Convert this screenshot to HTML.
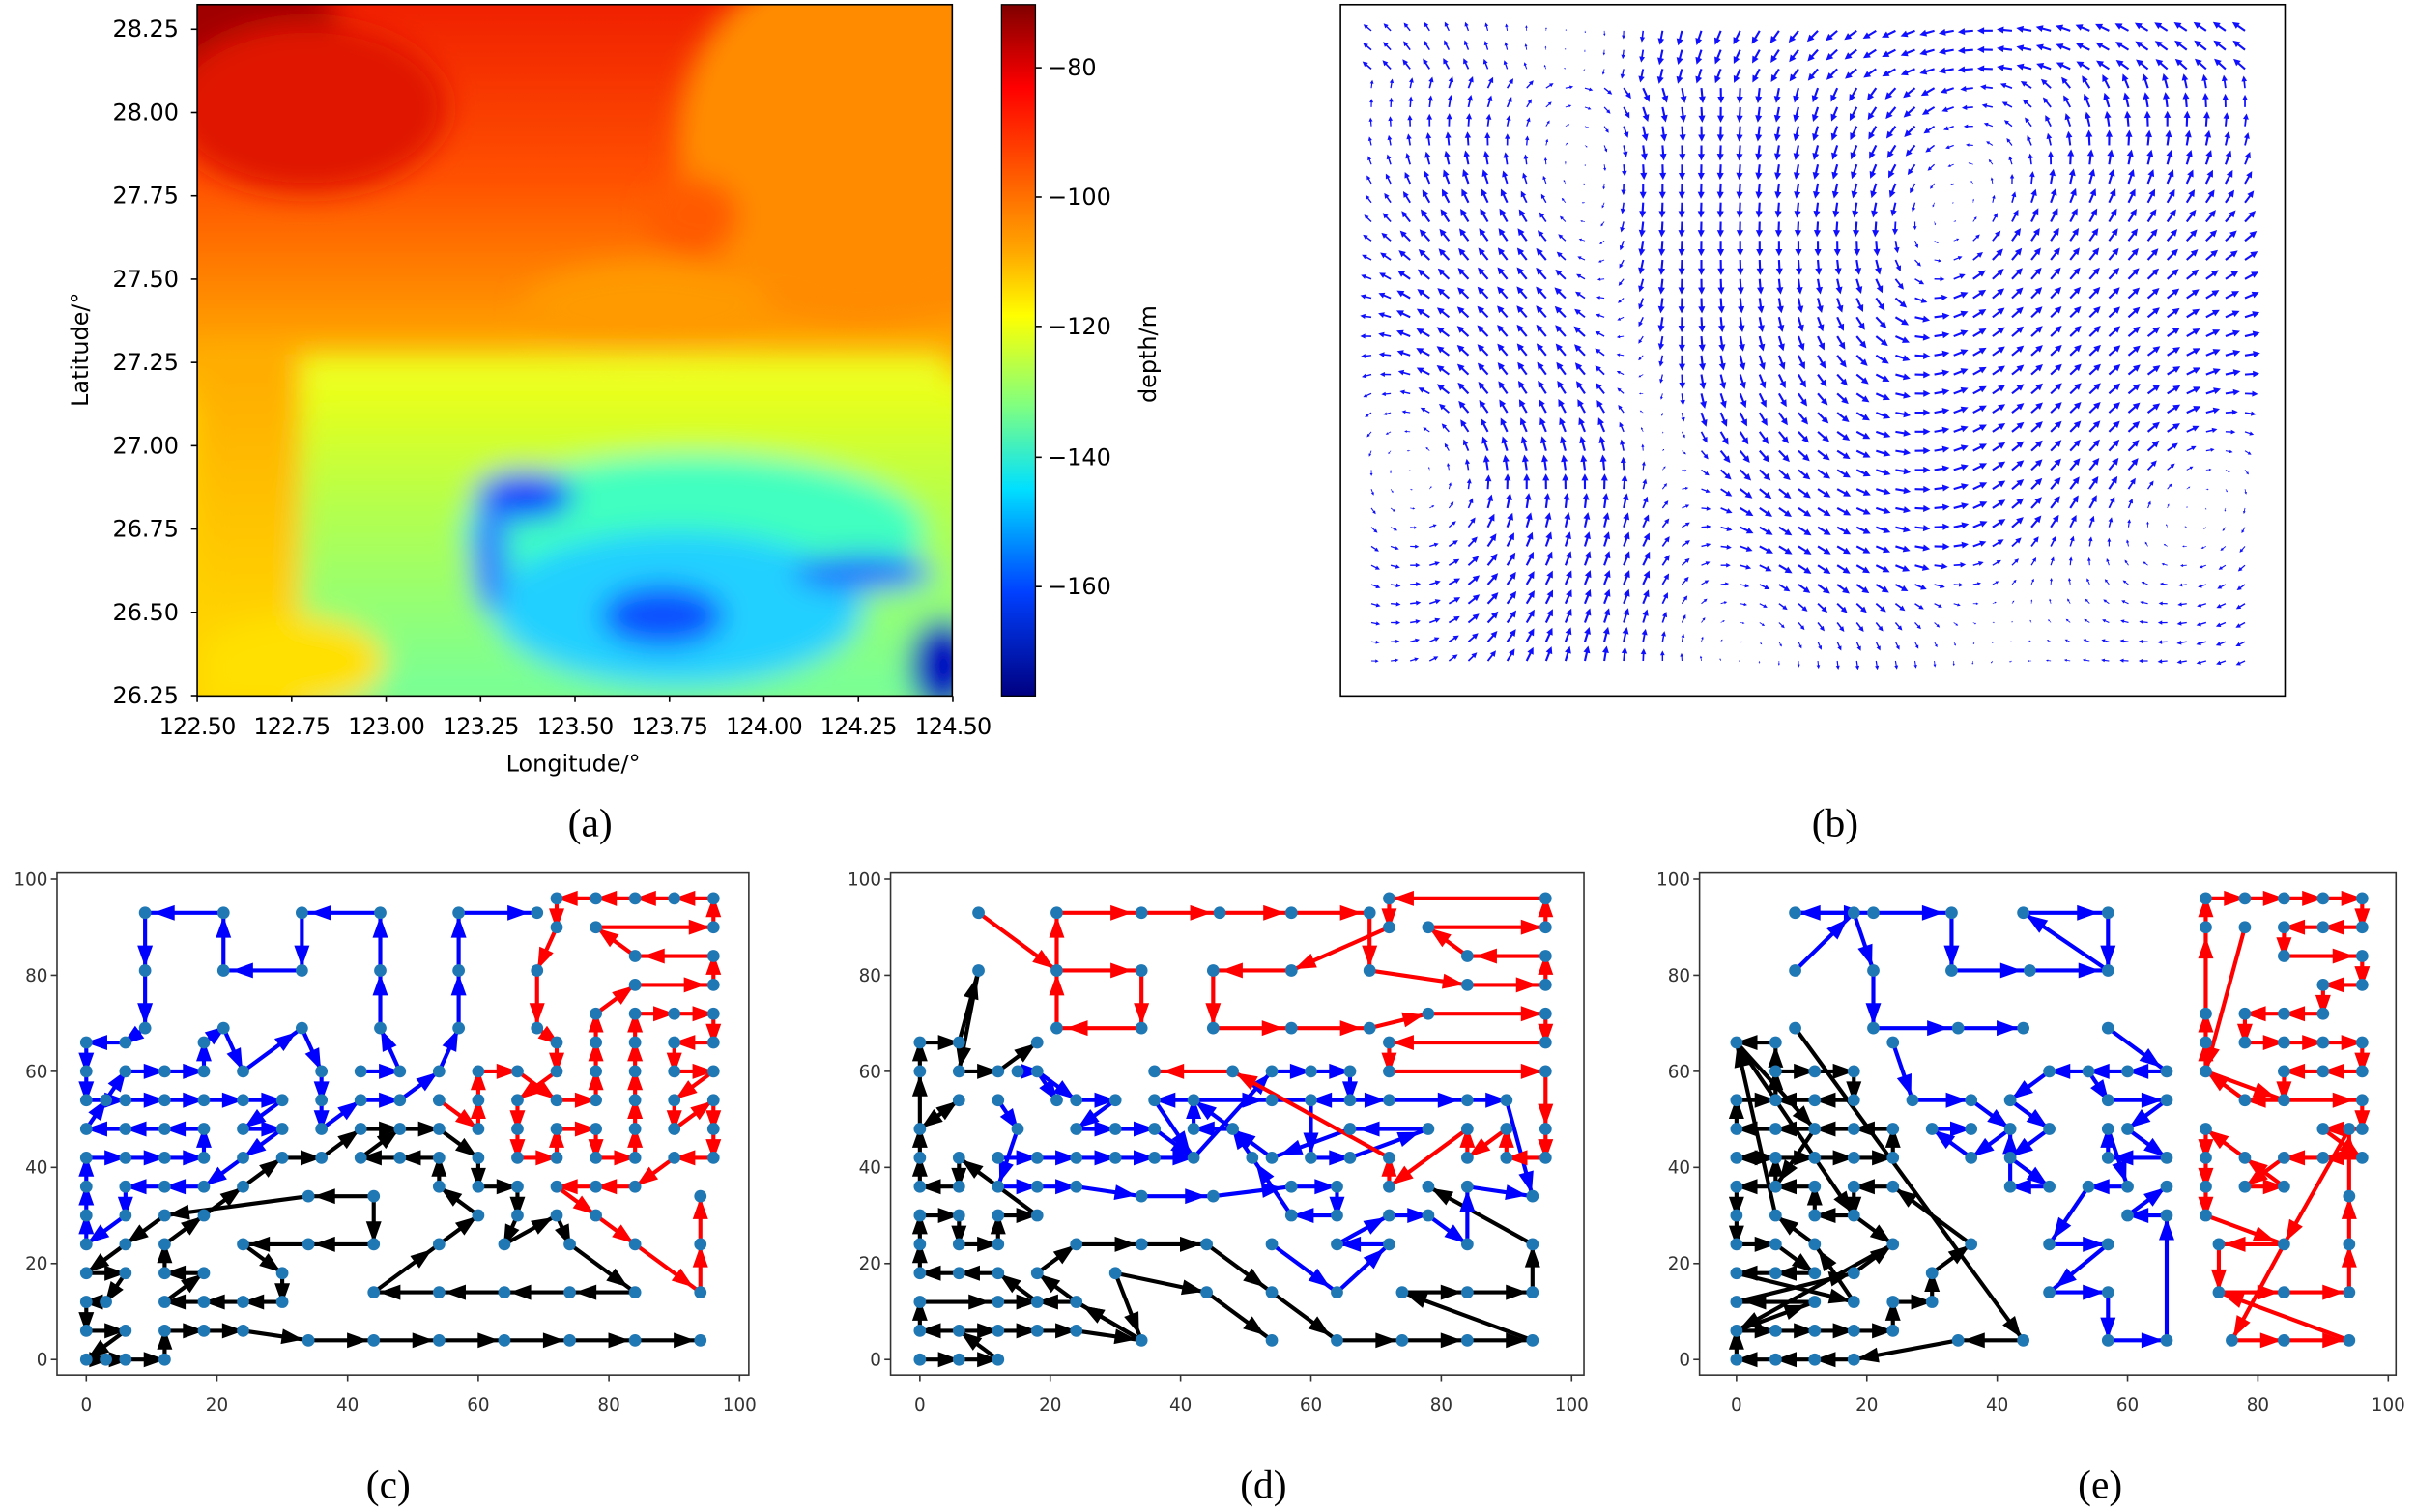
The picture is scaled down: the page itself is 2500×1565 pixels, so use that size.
<!DOCTYPE html>
<html><head><meta charset="utf-8"><style>
html,body{margin:0;padding:0;background:#fff}
svg{display:block}
text{font-family:"DejaVu Sans","Liberation Sans",sans-serif}
.cap{font-family:"Liberation Serif",serif;font-size:26px}
</style></head><body>
<svg id="s" width="2500" height="1565" viewBox="0 0 1568 982" preserveAspectRatio="none" xmlns="http://www.w3.org/2000/svg">
<defs>
<filter id="bl" x="-20%" y="-20%" width="140%" height="140%"><feGaussianBlur stdDeviation="9"/></filter>
<clipPath id="cpa"><rect x="128" y="3" width="490" height="449"/></clipPath>
<linearGradient id="top" x1="0" y1="0" x2="0" y2="1">
<stop offset="0" stop-color="#f02000"/><stop offset="0.25" stop-color="#ff5000"/><stop offset="0.42" stop-color="#ff8a00"/><stop offset="0.52" stop-color="#ffb000"/><stop offset="0.6" stop-color="#ffd200"/><stop offset="1" stop-color="#ffd200"/></linearGradient>
<linearGradient id="jet" x1="0" y1="0" x2="0" y2="1">
<stop offset="0" stop-color="#800000"/><stop offset="0.12" stop-color="#ff0000"/><stop offset="0.36" stop-color="#ffaa00"/><stop offset="0.45" stop-color="#ffff00"/><stop offset="0.58" stop-color="#80ff80"/><stop offset="0.7" stop-color="#00e0ff"/><stop offset="0.85" stop-color="#0040ff"/><stop offset="1" stop-color="#000080"/></linearGradient>
<linearGradient id="lft" x1="0" y1="0" x2="0" y2="1"><stop offset="0" stop-color="#ffaa00"/><stop offset="1" stop-color="#ffe000"/></linearGradient>
<linearGradient id="grn" x1="0" y1="0" x2="0" y2="1"><stop offset="0" stop-color="#f0ff10"/><stop offset="0.35" stop-color="#b8ff48"/><stop offset="1" stop-color="#70ffa0"/></linearGradient>
</defs>
<g clip-path="url(#cpa)">
<rect x="128" y="3" width="490" height="449" fill="url(#top)"/>
<g filter="url(#bl)">
<ellipse cx="560" cy="90" rx="120" ry="120" fill="#ff8c00"/>
<ellipse cx="420" cy="200" rx="80" ry="30" fill="#ff9a00"/>
<ellipse cx="150" cy="20" rx="70" ry="45" fill="#a00000"/>
<ellipse cx="200" cy="70" rx="90" ry="55" fill="#e01400"/>
<ellipse cx="450" cy="140" rx="30" ry="25" fill="#ff5a00"/>
<rect x="128" y="230" width="70" height="230" fill="url(#lft)"/>
<rect x="195" y="245" width="440" height="220" fill="url(#grn)"/>
<rect x="195" y="230" width="420" height="25" fill="#ecff20"/>
<ellipse cx="450" cy="345" rx="150" ry="50" fill="#40ffc0"/>
<ellipse cx="440" cy="395" rx="120" ry="50" fill="#20d0ff"/>
<ellipse cx="340" cy="322" rx="32" ry="16" fill="#1040ff"/>
<ellipse cx="318" cy="360" rx="12" ry="38" fill="#3080ff"/>
<ellipse cx="430" cy="400" rx="40" ry="20" fill="#1050ff"/>
<ellipse cx="560" cy="372" rx="45" ry="12" fill="#2070ff"/>
<ellipse cx="612" cy="432" rx="22" ry="30" fill="#0000c0"/>
<ellipse cx="190" cy="430" rx="60" ry="30" fill="#ffe000"/>
</g>
</g>
<rect x="128" y="3" width="490" height="449" fill="none" stroke="#000" stroke-width="1"/>
<rect x="650" y="3" width="22" height="449" fill="url(#jet)" stroke="#000" stroke-width="0.8"/>
<g font-size="15" fill="#000">
<g stroke="#000" stroke-width="1">
<line x1="672" y1="44" x2="676" y2="44"/><line x1="672" y1="128" x2="676" y2="128"/><line x1="672" y1="212" x2="676" y2="212"/><line x1="672" y1="297" x2="676" y2="297"/><line x1="672" y1="381" x2="676" y2="381"/>
</g>
<text x="680" y="49">−80</text><text x="680" y="133">−100</text><text x="680" y="217">−120</text><text x="680" y="302">−140</text><text x="680" y="386">−160</text>
<text transform="translate(750,230) rotate(-90)" text-anchor="middle">depth/m</text>
<text transform="translate(57,227) rotate(-90)" text-anchor="middle">Latitude/°</text>
<text x="372" y="501" text-anchor="middle">Longitude/°</text>
<g id="latt" text-anchor="end"></g>
<g id="lont" text-anchor="middle"></g>
</g>
<text class="cap" x="383" y="543" text-anchor="middle">(a)</text>
<rect x="870" y="3" width="613" height="449" fill="none" stroke="#000" stroke-width="1"/>
<g id="quiv" fill="#1010ff"></g>
<text class="cap" x="1191" y="543" text-anchor="middle">(b)</text>
<g id="paths"></g>
<text class="cap" x="252" y="973" text-anchor="middle">(c)</text>
<text class="cap" x="820" y="973" text-anchor="middle">(d)</text>
<text class="cap" x="1363" y="973" text-anchor="middle">(e)</text>
</svg>
<script>
var NS="http://www.w3.org/2000/svg";
function el(p,t,a,txt){var e=document.createElementNS(NS,t);for(var k in a)e.setAttribute(k,a[k]);if(txt!=null)e.textContent=txt;p.appendChild(e);return e;}
var latt=document.getElementById('latt'),lont=document.getElementById('lont');
var lats=["28.25","28.00","27.75","27.50","27.25","27.00","26.75","26.50","26.25"];
for(var i=0;i<9;i++){var y=19+i*54.1;el(latt,'line',{x1:124,y1:y,x2:128,y2:y,stroke:'#000'});el(latt,'text',{x:116,y:y+5},lats[i]);}
var lons=["122.50","122.75","123.00","123.25","123.50","123.75","124.00","124.25","124.50"];
for(var i=0;i<9;i++){var x=128+i*61.3;el(lont,'line',{x1:x,y1:452,x2:x,y2:456,stroke:'#000'});el(lont,'text',{x:x,y:477,'letter-spacing':'-0.5'},lons[i]);}
var q=document.getElementById('quiv');
var vs=[[1300,95,-1,120],[1130,395,1,110],[1040,90,1,90],[1220,230,-1,110],[1400,300,1,100],[960,300,-1,90],[1060,230,1,80]];
for(var r=0;r<34;r++)for(var c=0;c<46;c++){
 var x=890+c*12.6,y=20+r*12.4,u=0,v=0;
 for(var k=0;k<vs.length;k++){var d=vs[k],dx=x-d[0],dy=y-d[1],d2=dx*dx+dy*dy,f=d[2]*Math.exp(-d2/(2*d[3]*d[3]));u+=-dy*f/d[3];v+=dx*f/d[3];}
 if(r<3)u-=0.5;
 var m=Math.sqrt(u*u+v*v);var L=Math.min(10,m*14);if(L<1)L=1;
 var a=Math.atan2(v,u)*180/Math.PI;
 var w=Math.max(0.6,L/4.5);
 el(q,'path',{d:'M0,'+(-w*0.3)+'L'+(L*0.55)+','+(-w*0.3)+'L'+(L*0.55)+','+(-w)+'L'+L+',0L'+(L*0.55)+','+w+'L'+(L*0.55)+','+(w*0.3)+'L0,'+(w*0.3)+'Z',transform:'translate('+x.toFixed(1)+','+y.toFixed(1)+') rotate('+a.toFixed(1)+')'});
}
var P=document.getElementById('paths');
var panels=[
{ax:37,aw:449,x0:56,sx:4.24,
 blk:[[[0,0],[3,0],[6,0],[12,0],[12,6],[18,6],[24,6],[34,4],[44,4],[54,4],[64,4],[74,4],[84,4],[94,4]],
 [[84,14],[74,14],[64,14],[54,14],[44,14],[54,24],[60,30],[54,36],[54,42],[48,42],[42,42],[48,48],[54,48],[60,42],[60,36],[66,36],[66,30],[64,24],[72,30],[74,24],[84,14]],
 [[44,24],[34,24],[24,24],[30,18],[30,12],[24,12],[18,12],[12,12],[18,18],[12,18],[12,24],[18,30],[24,36],[30,42],[36,42],[42,48],[48,48]],
 [[44,34],[44,24]],[[44,34],[34,34],[12,30],[6,24],[0,18],[6,18],[3,12],[0,12],[0,6],[6,6],[0,0]]],
 blu:[[[57,93],[69,93]],[[57,69],[57,81],[57,93]],[[42,54],[48,54],[54,60],[57,69]],[[36,48],[42,54]],[[33,69],[36,60],[36,54],[36,48]],
 [[24,60],[33,69]],[[21,69],[24,60]],[[18,60],[18,66],[21,69]],[[6,60],[12,60],[18,60]],[[0,48],[3,54],[6,60]],
 [[45,93],[33,93],[33,81],[21,81],[21,93],[9,93],[9,81],[9,69],[6,66],[0,66],[0,60],[0,54],[6,54],[12,54],[18,54],[24,54],[30,54],[24,48],[30,48],[24,42],[18,36],[12,36],[6,36],[6,30],[0,24],[0,30],[0,36],[0,42],[6,42],[12,42],[18,42],[18,48],[12,48],[6,48],[0,48]],
 [[42,60],[48,60],[45,69],[45,81],[45,93]]],
 red:[[[78,90],[96,90],[96,96],[90,96],[84,96],[78,96],[72,96],[72,90],[69,81],[69,69],[72,66],[72,60],[66,54],[66,48],[66,42],[72,42],[72,48],[78,48],[78,42],[84,42],[84,48],[84,54],[84,60],[84,66],[84,72],[90,72],[96,72],[96,66],[90,66],[90,60],[96,60],[90,54],[90,48],[96,54],[96,48],[96,42],[90,42],[84,36],[78,36],[72,36],[78,30],[84,24],[94,14],[94,24],[94,34]],
 [[96,84],[84,84],[78,90]],[[84,78],[96,78],[96,84]],[[78,66],[78,72],[84,78]],[[78,54],[78,60],[78,66]],[[66,60],[72,54],[78,54]],[[60,48],[60,54],[60,60],[66,60]],[[54,54],[60,48]]]},
{ax:578,aw:450,x0:597,sx:4.23,
 blk:[[[0,0],[6,0],[12,0],[6,6],[12,6],[18,6],[24,6],[34,4],[24,12],[18,18],[24,24],[34,24],[44,24],[54,14],[64,4],[74,4],[84,4],[94,4],[74,14],[84,14],[94,14],[94,24],[78,36]],
 [[0,66],[6,66],[9,81],[6,60],[12,60],[18,66]],
 [[6,6],[0,6],[0,12],[12,12],[18,12],[12,18],[6,18],[0,18],[0,24],[0,30],[6,30],[6,24],[12,24],[12,30],[18,30],[6,42],[6,36],[0,36],[0,42],[0,48],[6,54],[0,48],[0,60],[0,66]],
 [[30,18],[34,4],[24,12],[18,12]],[[30,18],[44,14],[54,4]]],
 blu:[[[12,54],[15,48],[12,36],[18,36],[24,36],[34,34],[45,34],[57,36],[64,36],[64,30],[57,30],[51,42],[48,48],[42,54],[36,54],[42,42],[54,60],[60,60],[66,60],[66,54],[60,54],[60,42],[66,42],[78,48],[66,48],[54,42],[48,48],[42,48],[42,54],[54,54],[72,54],[84,54],[90,54],[94,34]],
 [[12,42],[18,42],[24,42],[30,42],[36,42],[42,42]],[[18,60],[24,54],[30,54],[24,48],[30,48],[36,48],[42,42]],[[15,60],[18,60],[21,54]],
 [[54,24],[64,14],[72,24],[64,24],[72,30],[78,30],[84,24],[84,36],[94,34]]],
 red:[[[9,93],[21,81],[34,81],[34,69],[21,69],[21,81],[21,93],[34,93],[46,93],[57,93],[69,93],[69,81],[84,78],[96,78],[96,84],[84,84],[78,90],[96,90],[96,96],[72,96],[72,90],[57,81],[45,81],[45,69],[57,69],[69,69],[78,72],[96,72],[96,66],[72,66],[72,60],[96,60],[96,48],[96,42],[90,42],[90,48],[84,42],[84,48],[72,36],[72,42],[48,60],[36,60]]]},
{ax:1103,aw:452,x0:1127,sx:4.23,
 blk:[[[9,69],[44,4],[34,4],[18,0],[12,0],[6,0],[0,0],[0,6],[12,12],[0,12],[18,18],[24,24],[0,6],[6,6],[12,6],[18,6],[24,6],[24,12],[30,12],[30,18],[36,24],[24,36],[18,36],[18,30],[12,30],[12,36],[6,36],[6,42],[0,42],[6,42],[12,42],[18,42],[24,42],[24,48],[18,48],[12,48],[6,48],[0,48],[0,54],[6,54],[6,60],[12,60],[18,60],[18,54],[12,54],[6,54],[6,66],[0,66],[12,48],[6,36],[0,36],[0,30],[0,24],[6,24],[12,18],[6,18],[0,18],[18,12],[12,24],[6,30],[0,66]],
 [[0,66],[18,30],[24,24]]],
 blu:[[[9,81],[18,93],[9,93],[21,93],[33,93],[33,81],[45,81],[57,81],[44,93],[57,93],[57,81]],[[18,93],[21,81],[21,69],[34,69],[44,69]],
 [[57,69],[66,60],[60,60],[54,60],[48,60],[42,54],[48,48],[42,42],[48,36],[42,36],[42,48]],[[24,66],[27,54],[36,54],[42,48],[36,42],[30,48],[36,48]],
 [[54,60],[57,54],[66,54],[60,48],[66,42],[57,42],[57,48],[60,36],[54,36],[48,24],[57,24],[48,14],[57,14],[57,4],[66,4],[66,30],[60,30],[66,36]]],
 red:[[[72,90],[72,96],[78,96],[84,96],[90,96],[96,96],[96,90],[90,90],[84,90],[84,84],[96,84],[96,78],[90,78],[90,72],[84,72],[78,72],[78,66],[84,66],[90,66],[96,66],[96,60],[90,60],[84,60],[84,54],[78,54],[72,60],[72,66],[72,72],[72,90]],
 [[78,90],[72,60],[84,54],[96,54],[96,48],[90,48],[96,42],[90,42],[84,42],[78,36],[84,36],[78,42],[72,48],[72,42],[72,36],[72,30],[84,24],[74,24],[74,14],[84,14],[94,14],[94,24],[94,34],[94,48],[84,24],[76,4],[84,4],[94,4],[74,14]]]}
];
var Y0=883,SY=3.12;
panels.forEach(function(p){
 var g=el(P,'g',{});
 el(g,'rect',{x:p.ax,y:567,width:p.aw,height:326,fill:'none',stroke:'#333','stroke-width':1});
 for(var t=0;t<=100;t+=20){var x=p.x0+t*p.sx;el(g,'line',{x1:x,y1:893,x2:x,y2:897,stroke:'#333'});el(g,'text',{x:x,y:916,'font-size':11.5,fill:'#333','text-anchor':'middle'},t);
  var y=Y0-t*SY;el(g,'line',{x1:p.ax-4,y1:y,x2:p.ax,y2:y,stroke:'#333'});el(g,'text',{x:p.ax-6,y:y+4,'font-size':11.5,fill:'#333','text-anchor':'end'},t);}
 var pts={};
 function draw(list,col){list.forEach(function(l){
  for(var i=0;i<l.length-1;i++){var a=l[i],b=l[i+1];var x1=p.x0+a[0]*p.sx,y1=Y0-a[1]*SY,x2=p.x0+b[0]*p.sx,y2=Y0-b[1]*SY;
   el(g,'line',{x1:x1,y1:y1,x2:x2,y2:y2,stroke:col,'stroke-width':2.6});
   var dx=x2-x1,dy=y2-y1,L=Math.sqrt(dx*dx+dy*dy);if(L<1)continue;var ux=dx/L,uy=dy/L;
   var hx=x1+dx*0.78,hy=y1+dy*0.78;if(L>60){hx=x2-ux*8;hy=y2-uy*8;}
   el(g,'path',{d:'M'+(hx+ux*6)+','+(hy+uy*6)+'L'+(hx-ux*8-uy*5)+','+(hy-uy*8+ux*5)+'L'+(hx-ux*8+uy*5)+','+(hy-uy*8-ux*5)+'Z',fill:col});
  }
  l.forEach(function(a){pts[a[0]+','+a[1]]=a;});
 });}
 draw(p.blk,'#000');draw(p.blu,'#0000ff');draw(p.red,'#ff0000');
 for(var k in pts){var a=pts[k];el(g,'circle',{cx:p.x0+a[0]*p.sx,cy:Y0-a[1]*SY,r:4,fill:'#1f77b4'});}
});
</script>
</body></html>
